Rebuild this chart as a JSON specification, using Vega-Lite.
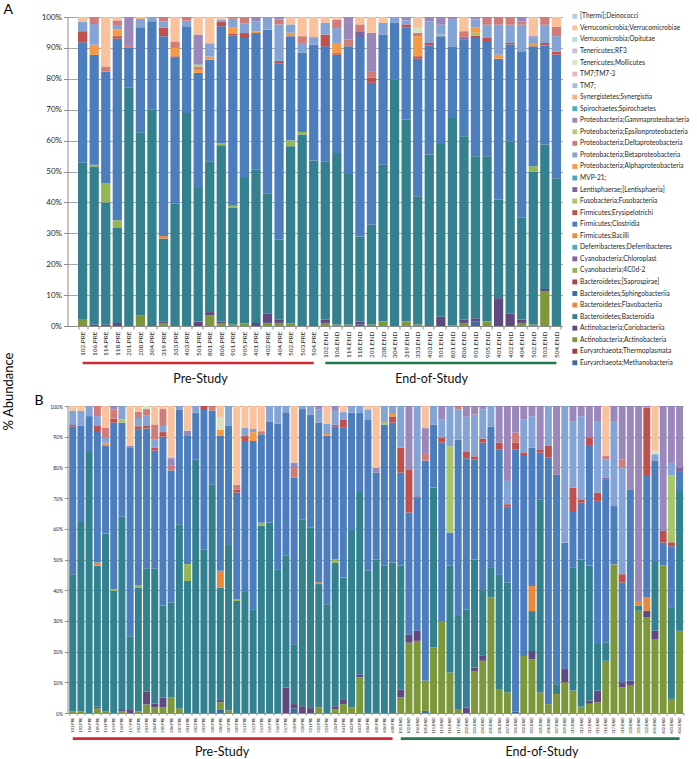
{
"$schema":"https://vega.github.io/schema/vega-lite/v6.json",
"background":"white",
"padding":{"left":1.5,"top":3,"right":0,"bottom":0},
"config":{"font":"Lato","view":{"stroke":null},
"axis":{"labelColor":"#262626","domainColor":"#8c8c8c","tickColor":"#8c8c8c","gridColor":"#a6a6a6","titleColor":"#000000"},
"title":{"fontWeight":"normal","color":"#000000"}},
"datasets":{
"taxa":[
{"c":"Me","n":"Euryarchaeota;Methanobacteria","o":1},{"c":"Th","n":"Euryarchaeota;Thermoplasmata","o":2},{"c":"Ac","n":"Actinobacteria;Actinobacteria","o":3},{"c":"Co","n":"Actinobacteria;Coriobacteriia","o":4},{"c":"Bd","n":"Bacteroidetes;Bacteroidia","o":5},{"c":"Fl","n":"Bacteroidetes;Flavobacteriia","o":6},{"c":"Sp","n":"Bacteroidetes;Sphingobacteriia","o":7},{"c":"Sa","n":"Bacteroidetes;[Saprospirae]","o":8},{"c":"C4","n":"Cyanobacteria;4C0d-2","o":9},{"c":"Ch","n":"Cyanobacteria;Chloroplast","o":10},{"c":"De","n":"Deferribacteres;Deferribacteres","o":11},{"c":"Bi","n":"Firmicutes;Bacilli","o":12},{"c":"Cl","n":"Firmicutes;Clostridia","o":13},{"c":"Er","n":"Firmicutes;Erysipelotrichi","o":14},{"c":"Fu","n":"Fusobacteria;Fusobacteriia","o":15},{"c":"Le","n":"Lentisphaerae;[Lentisphaeria]","o":16},{"c":"Mv","n":"MVP-21;","o":17},{"c":"Al","n":"Proteobacteria;Alphaproteobacteria","o":18},{"c":"Be","n":"Proteobacteria;Betaproteobacteria","o":19},{"c":"Dl","n":"Proteobacteria;Deltaproteobacteria","o":20},{"c":"Ep","n":"Proteobacteria;Epsilonproteobacteria","o":21},{"c":"Ga","n":"Proteobacteria;Gammaproteobacteria","o":22},{"c":"Si","n":"Spirochaetes;Spirochaetes","o":23},{"c":"Sy","n":"Synergistetes;Synergistia","o":24},{"c":"T7","n":"TM7;","o":25},{"c":"T3","n":"TM7;TM7-3","o":26},{"c":"Mo","n":"Tenericutes;Mollicutes","o":27},{"c":"R3","n":"Tenericutes;RF3","o":28},{"c":"Op","n":"Verrucomicrobia;Opitutae","o":29},{"c":"Ve","n":"Verrucomicrobia;Verrucomicrobiae","o":30},{"c":"Dn","n":"[Thermi];Deinococci","o":31}],
"A":[
{"s":"102.PRE","Ac":2,"Bd":50.8,"Cl":39,"Er":3.6,"Be":3,"Ve":1.6},
{"s":"106.PRE","Co":0.5,"Bd":51.2,"C4":0.6,"Cl":35.6,"Al":3.3,"Be":6.7,"Dl":2.3},
{"s":"114.PRE","Co":0.5,"Bd":39.5,"C4":6.3,"Cl":36.1,"Dl":1.6,"Ve":16},
{"s":"118.PRE","Co":1,"Bd":30.7,"C4":2.5,"Cl":58.8,"Er":0.8,"Al":2.2,"Be":1.4,"Dl":1.5,"Ve":1.1},
{"s":"201.PRE","Bd":77.3,"Cl":12.7,"Ga":9.1,"Dl":0.9},
{"s":"208.PRE","Ac":3.5,"Bd":59.2,"Cl":34,"Sy":0.3,"Be":2.7,"Ve":0.3},
{"s":"304.PRE","Bd":70,"Cl":28.6,"Be":1.4},
{"s":"319.PRE","Ac":0.8,"Co":0.7,"Bd":26.8,"Fl":0.8,"Cl":64.7,"Er":2.7,"Be":2.1,"Dl":1.4},
{"s":"333.PRE","Bd":39.5,"Cl":47.2,"Er":0.5,"Al":2.7,"Dl":2.1,"Ve":7.9},
{"s":"403.PRE","Bd":68.9,"Cl":28.1,"Be":1.8,"Dl":1.2},
{"s":"501.PRE","Co":1.5,"Bd":43.2,"Cl":37.2,"Al":1,"Dl":1,"Ep":0.7,"Ga":9.7,"Ve":5.7},
{"s":"801.PRE","Ac":3.5,"Co":1,"Bd":48.8,"Cl":32.9,"Al":1,"Be":4.3,"Ve":8.5},
{"s":"806.PRE","Ac":0.8,"Co":0.7,"Bd":57,"C4":0.7,"Cl":37.8,"Er":1.4,"Be":0.8,"Ve":0.8},
{"s":"901.PRE","Ac":0.5,"Bd":37.7,"C4":0.7,"Cl":55.1,"Er":0.5,"Al":2.2,"Be":2.7,"Dl":0.6},
{"s":"905.PRE","Ac":0.8,"Bd":47.1,"Cl":45.3,"Er":1.6,"Be":3.2,"Dl":2},
{"s":"401.PRE","Co":1,"Bd":49.6,"Cl":44.2,"Al":0.5,"Be":3.2,"Ga":1.5},
{"s":"402.PRE","Ac":1,"Co":3,"Bd":38.8,"Cl":53.1,"Be":4.1},
{"s":"404.PRE","Ac":1,"Co":1,"Bd":26,"Cl":57,"Er":0.8,"Be":11.8,"Dl":1.6,"Ga":0.8},
{"s":"502.PRE","Ac":0.8,"Bd":57.4,"C4":1.8,"Cl":33.8,"Al":1.1,"Be":2.7,"Ve":2.4},
{"s":"503.PRE","Bd":62,"C4":0.8,"Cl":25.6,"Be":3.2,"Dl":2.2,"Ve":6.2},
{"s":"504.PRE","Bd":53.6,"Cl":37.5,"Be":2.4,"Ve":6.5},
{"s":"102.END","Ac":1,"Co":1,"Bd":51.3,"Cl":37.2,"Er":3.8,"Be":3.8,"Ve":1.9},
{"s":"106.END","Ac":0.5,"Bd":55.5,"Cl":31.8,"Er":0.5,"Al":3.3,"Be":4.8,"Dl":2.7,"Ve":0.9},
{"s":"114.END","Ac":0.5,"Bd":48.7,"Cl":41.3,"Dl":2.2,"Ga":7.3},
{"s":"118.END","Me":0.5,"Co":1,"Bd":27.5,"Cl":64.2,"Le":2.2,"Dl":2.2,"Ve":2.4},
{"s":"201.END","Ac":0.5,"Bd":32.3,"Cl":45.9,"Er":1.6,"Dl":2.2,"Ga":12.4,"Ve":5.1},
{"s":"208.END","Ac":1.5,"Bd":50.7,"Cl":42.1,"Be":3.8,"Ve":1.9},
{"s":"304.END","Bd":79.7,"Cl":18.4,"Be":1.9},
{"s":"319.END","Ac":1.5,"Bd":65.3,"Cl":29.9,"Er":0.9,"Be":1.3,"Ga":1.1},
{"s":"333.END","Ac":0.5,"Bd":41.5,"Cl":44.5,"Er":0.8,"Al":6.5,"Dl":1.1,"Mo":1.6,"Ve":3.5},
{"s":"403.END","Bd":55.5,"Cl":35.3,"Er":0.8,"Be":7,"Ga":1.4},
{"s":"501.END","Co":3,"Bd":55.9,"Cl":34.9,"Fu":0.5,"Be":3.2,"Ga":2.5},
{"s":"801.END","Ac":0.3,"Bd":67,"Cl":23.2,"Be":8.6,"Ga":0.9},
{"s":"806.END","Ac":1,"Co":1,"Bd":59.4,"Cl":31.3,"Le":0.5,"Dl":2.2,"Ve":4.6},
{"s":"901.END","Me":1.5,"Co":1,"Bd":52.4,"Cl":38.3,"Er":0.7,"Fu":1,"Al":1.8,"Be":2.5,"Ga":0.8},
{"s":"905.END","Ac":1.5,"Bd":53.4,"Cl":37,"Er":1.3,"Be":4.3,"Dl":2.5},
{"s":"401.END","Co":9,"Bd":31.9,"Cl":45.6,"Al":1.3,"Be":9.7,"Dl":2.5},
{"s":"402.END","Co":4,"Bd":55.6,"Cl":31.5,"Er":0.5,"Be":5.9,"Dl":2.5},
{"s":"404.END","Ac":1,"Co":1,"Bd":33,"Cl":53.9,"Be":8.6,"Dl":1,"Ga":1.5},
{"s":"502.END","Ac":0.5,"Bd":49.4,"C4":1.8,"Cl":38.8,"Al":0.8,"Be":2,"Ga":0.5,"Ve":6.2},
{"s":"503.END","Ac":11.2,"Co":0.8,"Bd":46.7,"Cl":32.1,"Er":0.8,"Be":5.9,"Dl":2.5},
{"s":"504.END","Bd":47.8,"Cl":40,"Er":1,"Be":5,"Dl":3,"Ve":3.2}],
"B":[
{"s":"101.PRE","Ac":0.5,"Bd":44.7,"Cl":48.1,"Er":0.5,"Be":4.7,"Ve":1.5},
{"s":"102.PRE","Ac":0.5,"Bd":61.7,"Cl":31.5,"Be":4.7,"Ve":1.6},
{"s":"104.PRE","Bd":85,"Cl":11.7,"Be":3.3},
{"s":"105.PRE","Ac":1.5,"Co":0.5,"Bd":46,"Fl":1,"Cl":42.5,"Er":2.2,"Be":3,"Dl":3.3},
{"s":"111.PRE","Ac":0.5,"Bd":58,"Cl":28.7,"Al":0.8,"Be":1.6,"Dl":3.3,"Ve":7.1},
{"s":"113.PRE","Bd":39.8,"C4":0.5,"Cl":54.3,"Er":1.3,"Dl":3,"Ga":1.1},
{"s":"116.PRE","Ac":0.6,"Co":0.4,"Bd":63,"Cl":30.6,"Fu":1.1,"Be":4.3},
{"s":"117.PRE","Co":1,"Bd":24,"Cl":61.3,"Ga":0.7,"Ve":13},
{"s":"202.PRE","Ac":0.5,"Bd":40.4,"C4":0.8,"Cl":50.7,"Er":1,"Be":2.7,"Dl":2,"Ve":1.9},
{"s":"203.PRE","Ac":2.8,"Co":4.2,"Bd":40,"Cl":45.7,"Er":1,"Be":3.3,"Dl":2,"Mo":1},
{"s":"204.PRE","Ac":1.8,"Co":1.2,"Bd":44,"Cl":38.5,"Er":1,"Be":2.5,"Dl":5,"Ve":6},
{"s":"205.PRE","Ac":1.8,"Co":3.2,"Bd":30,"Cl":55,"Er":1.5,"Be":2,"Dl":5.5,"Ve":1},
{"s":"206.PRE","Ac":5,"Bd":31,"Cl":43,"Dl":1.5,"Ga":2.5,"R3":0.5,"Ve":16.5},
{"s":"207.PRE","Ac":1.5,"Bd":60,"Cl":37.4,"Be":1.1},
{"s":"301.PRE","Bd":43,"C4":5.5,"Cl":42,"Ga":1.5,"Ve":8},
{"s":"302.PRE","Bd":82.6,"Cl":15.2,"Be":2.2},
{"s":"303.PRE","Bd":53.3,"Cl":45.7,"Er":1},
{"s":"305.PRE","Bd":74.5,"Cl":24,"Dl":1.5},
{"s":"306.PRE","Me":1,"Ac":2.5,"Co":1,"Bd":36.3,"Fl":5.5,"Cl":43.9,"Al":2,"Mo":4,"Ve":3.8},
{"s":"307.PRE","Ac":0.8,"Bd":53.6,"Cl":39.3,"Be":6.3},
{"s":"309.PRE","Bd":36.5,"C4":0.6,"Cl":34.7,"Er":1,"Dl":1.5,"Ve":25.7},
{"s":"311.PRE","Bd":39.7,"Cl":48.9,"Er":1.6,"Be":2.7,"Ve":7.1},
{"s":"312.PRE","Bd":33.8,"Cl":54.8,"Al":2.9,"Be":1,"Ve":7.5},
{"s":"313.PRE","Bd":61,"C4":1,"Cl":28.8,"Dl":1,"Ve":8.2},
{"s":"315.PRE","Bd":62,"Cl":33,"Be":5},
{"s":"316.PRE","Bd":46.8,"Cl":47.4,"Be":5.8},
{"s":"317.PRE","Co":8.3,"Bd":42.9,"Cl":46.8,"Be":2},
{"s":"318.PRE","Me":1.5,"Co":1.4,"Bd":19.5,"Cl":54.3,"Dl":3.3,"Ga":1.6,"Ve":18.4},
{"s":"320.PRE","Co":2.2,"Bd":60.8,"Cl":36,"Be":1},
{"s":"321.PRE","Co":1.6,"Bd":58.8,"Cl":36.8,"Be":2.8},
{"s":"322.PRE","Ac":1.8,"Bd":40.2,"Fl":0.6,"Cl":52,"Be":4.3,"Ga":1.1},
{"s":"323.PRE","Bd":35.4,"Cl":55,"Al":0.5,"Be":3.3,"Ve":5.8},
{"s":"324.PRE","Ac":1.2,"Co":1,"Bd":46.8,"C4":1,"Cl":43.3,"Er":0.6,"Be":4.5,"Ga":1.6},
{"s":"601.PRE","Ac":2.9,"Co":1.6,"Bd":39.6,"Cl":48.8,"Er":2.7,"Be":2.4,"Ve":2},
{"s":"602.PRE","Ac":1.8,"Bd":58,"Cl":38,"Be":2.2},
{"s":"603.PRE","Ac":11.6,"Co":1,"Bd":59.4,"Cl":25.7,"Be":2.3},
{"s":"604.PRE","Bd":46.3,"Cl":49.1,"Be":3.5,"Ve":1.1},
{"s":"605.PRE","Bd":50,"Cl":28.3,"Ga":1.5,"Ve":20.2},
{"s":"606.PRE","Bd":48,"Cl":46,"Fu":0.8,"Be":5.2},
{"s":"608.PRE","Bd":49,"Cl":45.6,"Er":2,"Al":0.8,"Be":2.6},
{"s":"101.END","Ac":5.1,"Co":2.6,"Bd":40.3,"Cl":30.3,"Er":8.1,"Be":13.6},
{"s":"102.END","Ac":22.9,"Co":2.7,"Cl":39.7,"Er":14.1,"Ga":20.6},
{"s":"104.END","Ac":23.5,"Co":3.3,"Cl":43.3,"Le":0.5,"Be":29.4},
{"s":"105.END","Me":0.7,"Ac":9.8,"Cl":71.7,"Dl":2.2,"Ga":8.4,"Ve":7.2},
{"s":"111.END","Ac":21.4,"Bd":52,"Cl":20.6,"Be":6},
{"s":"113.END","Ac":30,"Cl":58.1,"Er":1.6,"Be":6,"Ga":4.3},
{"s":"116.END","Ac":13.2,"Bd":34.8,"Cl":10.8,"Fu":28.1,"Be":13.1},
{"s":"117.END","Ac":1.3,"Bd":30.3,"Cl":57.5,"Be":9.8,"Dl":1.1},
{"s":"202.END","Co":1.8,"Bd":31.8,"Cl":49.4,"Er":2.2,"Be":11.3,"Ga":3.5},
{"s":"203.END","Ac":13.7,"Co":1.1,"Bd":35.2,"Cl":32.6,"Er":1,"Be":13.6,"Ga":2.8},
{"s":"204.END","Ac":17,"Co":1.6,"Bd":21.4,"Cl":48.1,"Er":1.3,"Be":9.5,"Ga":1.1},
{"s":"205.END","Ac":37.6,"Bd":9.9,"Cl":45.8,"Be":6.7},
{"s":"206.END","Ac":7.8,"Bd":37.2,"Cl":40.9,"Er":2.2,"Ga":11.9},
{"s":"207.END","Ac":6.7,"Bd":35.8,"Cl":24.7,"Er":0.8,"Be":7.6,"Ga":24.4},
{"s":"301.END","Me":0.5,"Cl":85.4,"Er":2.2,"Dl":3.2,"Ga":8.7},
{"s":"302.END","Ac":18.6,"Cl":65.4,"Er":0.9,"Be":10.8,"Ga":4.3},
{"s":"303.END","Ac":17.5,"Co":2.7,"Bd":13,"Fl":8.2,"Cl":45,"Be":10.3,"Ga":3.3},
{"s":"305.END","Ac":6.7,"Bd":62.9,"Cl":15.2,"Er":1.1,"Ga":14.1},
{"s":"306.END","Ac":2.9,"Cl":80.3,"Er":3.8,"Be":13},
{"s":"307.END","Ac":6.2,"Bd":3.2,"Cl":67.8,"Le":0.5,"Ga":22.3},
{"s":"309.END","Ac":10,"Co":4.3,"Cl":41.2,"Be":44.5},
{"s":"311.END","Ac":7.3,"Bd":40,"Cl":18.5,"Er":7.6,"Be":21.7,"Ga":4.9},
{"s":"312.END","Ac":2,"Bd":48,"Cl":18.5,"Er":1.1,"Be":27.1,"Ga":3.3},
{"s":"313.END","Ac":3,"Co":1.1,"Bd":43.9,"Cl":39,"Er":2.7,"Ga":10.3},
{"s":"315.END","Ac":3.5,"Co":3.8,"Bd":15.2,"Cl":46.6,"Er":2.7,"Be":23.3,"Ga":4.9},
{"s":"316.END","Ac":17,"Bd":6,"Cl":53.1,"Le":0.5,"Be":6,"Dl":1.1,"Ve":16.3},
{"s":"317.END","Ac":48.4,"Cl":19,"Be":27.7,"Ga":4.9},
{"s":"318.END","Ac":8.4,"Co":1.6,"Cl":32.5,"Er":2.7,"Be":34.8,"Dl":2.6,"Ga":17.4},
{"s":"320.END","Ac":8.9,"Co":1.6,"Cl":62.4,"Ga":27.1},
{"s":"321.END","Ac":33.3,"Bd":1.6,"Fl":1.6,"Ga":63.5},
{"s":"322.END","Ac":31.1,"Co":2.2,"Fl":4.3,"Cl":39.6,"Er":22.3,"Ga":0.5},
{"s":"601.END","Ac":24.1,"Co":2.7,"Bd":22.7,"Cl":32.6,"Be":2.2,"Mo":1.1,"Ve":14.6},
{"s":"602.END","Ac":48,"Cl":7.5,"Er":3.8,"Ga":40.7},
{"s":"603.END","Ac":4.6,"Bd":29.8,"Cl":19.8,"Er":1.3,"Fu":21.7,"Be":3.8,"Ga":18.8},
{"s":"604.END","Ac":26.8,"Bd":45.5,"Cl":6.5,"Le":1,"Ga":20.2}],
"Ag":[{"g":"Pre-Study","first":"102.PRE","last":"504.PRE","mid":"501.PRE"},{"g":"End-of-Study","first":"102.END","last":"504.END","mid":"403.END"}],
"Bg":[{"g":"Pre-Study","first":"101.PRE","last":"608.PRE","mid":"306.PRE"},{"g":"End-of-Study","first":"101.END","last":"604.END","mid":"305.END"}]
},
"bounds":"flush",
"spacing":20,
"vconcat":[
{"data":{"name":"A"},"width":495,"height":309,
"title":{"text":"A","anchor":"start","frame":"group","dx":-64,"dy":4,"offset":0,"fontSize":14},
"transform":[{"fold":["Me","Th","Ac","Co","Bd","Fl","Sp","Sa","C4","Ch","De","Bi","Cl","Er","Fu","Le","Mv","Al","Be","Dl","Ep","Ga","Si","Sy","T7","T3","Mo","R3","Op","Ve","Dn"],"as":["k","v"]},{"filter":"isValid(datum.v)"},{"lookup":"k","from":{"data":{"name":"taxa"},"key":"c","fields":["n","o"]}}],
"mark":{"type":"bar"},
"encoding":{
"x":{"field":"s","type":"nominal","sort":null,"scale":{"paddingInner":0.2,"paddingOuter":0.52,"align":0.875},"axis":{"title":null,"labelAngle":-90,"labelFontSize":6.5,"labelPadding":2,"tickBand":"extent","tickSize":3,"labelOverlap":false,"labelBound":false}},
"y":{"field":"v","type":"quantitative","stack":"normalize","scale":{"domain":[0,1]},"axis":{"title":"% Abundance","titleFontSize":13,"titleFontWeight":"normal","titleX":-59.5,"titleY":374,"titleAngle":270,"titleBaseline":"middle","titleAlign":"center","values":[0,0.1,0.2,0.3,0.4,0.5,0.6,0.7,0.8,0.9,1],"format":".0%","labelFontSize":8,"tickSize":4,"grid":true}},
"color":{"field":"n","type":"nominal","scale":{"domain":["[Thermi];Deinococci","Verrucomicrobia;Verrucomicrobiae","Verrucomicrobia;Opitutae","Tenericutes;RF3","Tenericutes;Mollicutes","TM7;TM7-3","TM7;","Synergistetes;Synergistia","Spirochaetes;Spirochaetes","Proteobacteria;Gammaproteobacteria","Proteobacteria;Epsilonproteobacteria","Proteobacteria;Deltaproteobacteria","Proteobacteria;Betaproteobacteria","Proteobacteria;Alphaproteobacteria","MVP-21;","Lentisphaerae;[Lentisphaeria]","Fusobacteria;Fusobacteriia","Firmicutes;Erysipelotrichi","Firmicutes;Clostridia","Firmicutes;Bacilli","Deferribacteres;Deferribacteres","Cyanobacteria;Chloroplast","Cyanobacteria;4C0d-2","Bacteroidetes;[Saprospirae]","Bacteroidetes;Sphingobacteriia","Bacteroidetes;Flavobacteriia","Bacteroidetes;Bacteroidia","Actinobacteria;Coriobacteriia","Actinobacteria;Actinobacteria","Euryarchaeota;Thermoplasmata","Euryarchaeota;Methanobacteria"],
"range":["#B9CDE5","#F9C29C","#B7DEE8","#CCC1DA","#D7E4BD","#E6B9B8","#A6BDDF","#F9B27A","#4BACC6","#9B88BA","#B5CC82","#D27C79","#84A4D6","#F59A45","#46A5BD","#7B66A0","#A8C567","#C0504D","#4C7DBC","#F08D3C","#4BACC6","#8064A2","#95B654","#A94442","#3D6CA8","#E8883A","#33808F","#5E4A80","#7C983B","#9E3B39","#3E68A0"]},
"legend":{"orient":"none","legendX":504,"legendY":-4,"title":null,"symbolType":"square","symbolSize":24,"symbolStrokeWidth":0,"symbolLimit":40,"labelFontSize":6.6,"labelColor":"#262626","rowPadding":4.55,"labelLimit":200,"padding":0,"labelOffset":2}},
"order":{"field":"o","type":"quantitative"}}},
{"width":495,"height":40,
"layer":[
{"data":{"name":"A"},"mark":{"type":"rule","opacity":0},"encoding":{"x":{"field":"s","type":"nominal","sort":null,"axis":null,"scale":{"paddingInner":0.2,"paddingOuter":0.52,"align":0.875}}}},
{"data":{"name":"Ag"},"mark":{"type":"rule","strokeWidth":2.7,"yOffset":-3},"encoding":{"x":{"field":"first","type":"nominal","sort":null,"axis":null},"x2":{"field":"last"},"stroke":{"field":"g","type":"nominal","scale":{"domain":["Pre-Study","End-of-Study"],"range":["#CE2A36","#217A4B"]},"legend":null}}},
{"data":{"name":"Ag"},"mark":{"type":"text","dy":13,"fontSize":12.5,"color":"#111111"},"encoding":{"x":{"field":"mid","type":"nominal","sort":null,"bandPosition":0.75,"axis":null},"text":{"field":"g"}}}]},
{"data":{"name":"B"},"width":616,"height":307,
"title":{"text":"B","anchor":"start","frame":"group","dx":-33,"offset":-4,"fontSize":14},
"transform":[{"fold":["Me","Th","Ac","Co","Bd","Fl","Sp","Sa","C4","Ch","De","Bi","Cl","Er","Fu","Le","Mv","Al","Be","Dl","Ep","Ga","Si","Sy","T7","T3","Mo","R3","Op","Ve","Dn"],"as":["k","v"]},{"filter":"isValid(datum.v)"},{"lookup":"k","from":{"data":{"name":"taxa"},"key":"c","fields":["n","o"]}}],
"mark":{"type":"bar"},
"encoding":{
"x":{"field":"s","type":"nominal","sort":null,"scale":{"paddingInner":0.15,"paddingOuter":0.134,"align":0.8},"axis":{"title":null,"labelAngle":-90,"labelFontSize":4,"labelPadding":2,"tickBand":"extent","tickSize":2,"labelOverlap":false,"labelBound":false}},
"y":{"field":"v","type":"quantitative","stack":"normalize","scale":{"domain":[0,1]},"axis":{"title":null,"values":[0,0.1,0.2,0.3,0.4,0.5,0.6,0.7,0.8,0.9,1],"format":".0%","labelFontSize":5,"tickSize":3,"grid":true}},
"color":{"field":"n","type":"nominal"},
"order":{"field":"o","type":"quantitative"}}},
{"width":616,"height":10,
"layer":[
{"data":{"name":"B"},"mark":{"type":"rule","opacity":0},"encoding":{"x":{"field":"s","type":"nominal","sort":null,"axis":null,"scale":{"paddingInner":0.15,"paddingOuter":0.134,"align":0.8}}}},
{"data":{"name":"Bg"},"mark":{"type":"rule","strokeWidth":2.7,"yOffset":0.7},"encoding":{"x":{"field":"first","type":"nominal","sort":null,"axis":null},"x2":{"field":"last"},"stroke":{"field":"g","type":"nominal","legend":null}}},
{"data":{"name":"Bg"},"mark":{"type":"text","dy":14,"fontSize":12.5,"color":"#111111"},"encoding":{"x":{"field":"mid","type":"nominal","sort":null,"bandPosition":0.75,"axis":null},"text":{"field":"g"}}}]}
]
}
